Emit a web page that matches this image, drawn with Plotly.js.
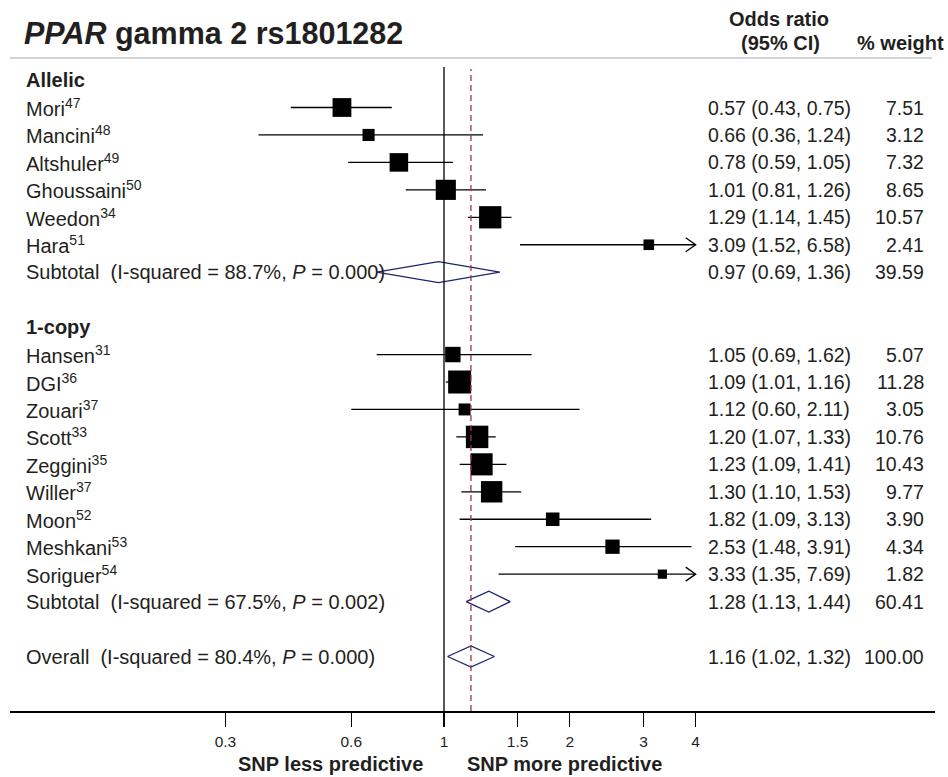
<!DOCTYPE html>
<html>
<head>
<meta charset="utf-8">
<script src="https://cdn.plot.ly/plotly-3.0.1.min.js"></script>
<style>html,body{margin:0;padding:0;background:#fff}</style>
</head>
<body>
<div id="chart" style="width:948px;height:777px"></div>
<script>
// ---- Allelic model studies ----
const allelicStudies = ['Mori', 'Mancini', 'Altshuler', 'Ghoussaini', 'Weedon', 'Hara'];
const allelicRefs = ['47', '48', '49', '50', '34', '51'];
const allelicOR = [0.57, 0.66, 0.78, 1.01, 1.29, 3.09];
const allelicLo = [0.43, 0.36, 0.59, 0.81, 1.14, 1.52];
const allelicHi = [0.75, 1.24, 1.05, 1.26, 1.45, 6.58];
const allelicWeight = [7.51, 3.12, 7.32, 8.65, 10.57, 2.41];

// ---- 1-copy model studies ----
const copyStudies = ['Hansen', 'DGI', 'Zouari', 'Scott', 'Zeggini', 'Willer', 'Moon', 'Meshkani', 'Soriguer'];
const copyRefs = ['31', '36', '37', '33', '35', '37', '52', '53', '54'];
const copyOR = [1.05, 1.09, 1.12, 1.20, 1.23, 1.30, 1.82, 2.53, 3.33];
const copyLo = [0.69, 1.01, 0.60, 1.07, 1.09, 1.10, 1.09, 1.48, 1.35];
const copyHi = [1.62, 1.16, 2.11, 1.33, 1.41, 1.53, 3.13, 3.91, 7.69];
const copyWeight = [5.07, 11.28, 3.05, 10.76, 10.43, 9.77, 3.90, 4.34, 1.82];

// ---- pooled estimates: allelic subtotal, 1-copy subtotal, overall ----
const pooledLabels = ['Subtotal', 'Subtotal', 'Overall'];
const pooledOR = [0.97, 1.28, 1.16];
const pooledLo = [0.69, 1.13, 1.02];
const pooledHi = [1.36, 1.44, 1.32];
const pooledWeight = [39.59, 60.41, 100.00];
const pooledI2 = ['88.7', '67.5', '80.4'];
const pooledP = ['0.000', '0.002', '0.000'];

// ---- axis ----
const tickVals = [0.3, 0.6, 1, 1.5, 2, 3, 4];
const tickLabels = ['0.3', '0.6', '1', '1.5', '2', '3', '4'];

// ---- page geometry (pixels) ----
const W = 948, H = 777;
const L = 10, R = 935, T = 58, B = 711;
const PX_PER_DECADE = 418, ONE_PX = 444;
const ROW0 = 80.05, ROWH = 27.45;
const px = x => (x - L) / (R - L);
const py = y => (B - y) / (B - T);

const FONT = 'Liberation Sans, Arial, Helvetica, sans-serif';
const TXT = '#231f20';
const NAVY = '#1d2470';
const MAROON = '#9e3446';
const SIZE_PER_ROOT_WEIGHT = 6.85;
const xMaxShown = tickVals[tickVals.length - 1];

// row index of every line of the table
const allelicHeaderRow = 0;
const allelicRows = allelicStudies.map((_, i) => 1 + i);
const copyHeaderRow = 9;
const copyRows = copyStudies.map((_, i) => 10 + i);
const pooledRows = [7, 19, 21];

const studyRows = allelicRows.concat(copyRows);
const studyOR = allelicOR.concat(copyOR);
const studyLo = allelicLo.concat(copyLo);
const studyHi = allelicHi.concat(copyHi);
const studyWeight = allelicWeight.concat(copyWeight);
const studyNames = allelicStudies.concat(copyStudies);
const studyRefs = allelicRefs.concat(copyRefs);

const fmt = v => v.toFixed(2);

// confidence-interval whiskers (truncated at the last tick with an arrowhead)
const ciX = [], ciY = [], arrowX = [], arrowY = [];
const arrowStep = Math.pow(10, 10 / PX_PER_DECADE);
const arrowHalf = 7 / ROWH;
studyRows.forEach((r, i) => {
  const hi = Math.min(studyHi[i], xMaxShown);
  ciX.push(studyLo[i], hi, null);
  ciY.push(r, r, null);
  if (studyHi[i] > xMaxShown) {
    arrowX.push(xMaxShown / arrowStep, xMaxShown, xMaxShown / arrowStep, null);
    arrowY.push(r - arrowHalf, r, r + arrowHalf, null);
  }
});

// pooled diamonds
const dX = [], dY = [];
const dHalf = 10.5 / ROWH;
pooledRows.forEach((r, i) => {
  dX.push(pooledLo[i], pooledOR[i], pooledHi[i], pooledOR[i], pooledLo[i], null);
  dY.push(r, r - dHalf, r, r + dHalf, r, null);
});

const traces = [
  { type: 'scatter', mode: 'lines', x: ciX, y: ciY, line: { color: '#000', width: 1.3 }, hoverinfo: 'skip' },
  { type: 'scatter', mode: 'lines', x: arrowX, y: arrowY, line: { color: '#000', width: 1.3 }, hoverinfo: 'skip' },
  {
    type: 'scatter', mode: 'markers', x: studyOR, y: studyRows,
    marker: {
      symbol: 'square', color: '#000', opacity: 1,
      size: studyWeight.map(w => SIZE_PER_ROOT_WEIGHT * Math.sqrt(w)), line: { width: 0 }
    },
    hoverinfo: 'skip'
  },
  { type: 'scatter', mode: 'lines', x: dX, y: dY, line: { color: NAVY, width: 1.3 }, hoverinfo: 'skip' }
];

// text columns
const ann = [];
const textAt = (text, x, y, opts = {}) => ann.push(Object.assign({
  text, x, y, xref: 'paper', yref: 'y', xanchor: 'left', yanchor: 'middle', showarrow: false,
  font: { family: FONT, size: 20, color: TXT }
}, opts));
const numFont = { family: FONT, size: 19.5, color: TXT };

textAt('<b>Allelic</b>', px(24), allelicHeaderRow);
textAt('<b>1-copy</b>', px(24), copyHeaderRow);
studyRows.forEach((r, i) => {
  textAt(studyNames[i] + '<sup>' + studyRefs[i] + '</sup>', px(24), r);
  textAt(fmt(studyOR[i]) + ' (' + fmt(studyLo[i]) + ', ' + fmt(studyHi[i]) + ')', px(706), r, { font: numFont });
  textAt(fmt(studyWeight[i]), px(926), r, { xanchor: 'right', font: numFont });
});
pooledRows.forEach((r, i) => {
  textAt(pooledLabels[i] + ' \u00a0(I-squared = ' + pooledI2[i] + '%, <i>P</i> = ' + pooledP[i] + ')', px(24), r);
  textAt(fmt(pooledOR[i]) + ' (' + fmt(pooledLo[i]) + ', ' + fmt(pooledHi[i]) + ')', px(706), r, { font: numFont });
  textAt(pooledWeight[i].toFixed(2), px(926), r, { xanchor: 'right', font: numFont });
});

// column headers and axis captions
const headAt = (text, x, y, xanchor) => ann.push({
  text, x: px(x), y: py(y), xref: 'paper', yref: 'paper', xanchor, yanchor: 'middle', showarrow: false,
  font: { family: FONT, size: 20, color: TXT }
});
headAt('<b>Odds ratio</b>', 779, 19, 'center');
headAt('<b>(95% CI)</b>', 780, 43, 'center');
headAt('<b>% weight</b>', 946, 43, 'right');
headAt('<b>SNP less predictive</b>', 330, 764, 'center');
headAt('<b>SNP more predictive</b>', 564, 764, 'center');

const shapes = [
  // rule under the header
  { type: 'line', xref: 'paper', yref: 'paper', x0: 0, x1: px(932), y0: 1, y1: 1, line: { color: '#c4c4c4', width: 1.3 } },
  // line of no effect
  { type: 'line', xref: 'x', yref: 'paper', x0: 1, x1: 1, y0: 0, y1: py(67), line: { color: '#000', width: 1.3 } },
  // overall pooled estimate
  { type: 'line', xref: 'x', yref: 'paper', x0: pooledOR[2], x1: pooledOR[2], y0: 0, y1: py(69), line: { color: MAROON, width: 1.3, dash: '6px,4px' } }
];

const layout = {
  width: W, height: H,
  margin: { l: L, r: W - R, t: T, b: H - B, pad: 0 },
  paper_bgcolor: '#fff', plot_bgcolor: '#fff',
  showlegend: false,
  title: {
    text: '<b><i>PPAR</i> gamma 2 rs1801282</b>',
    xref: 'container', yref: 'container', x: 24 / W, y: 1 - 33 / H, xanchor: 'left', yanchor: 'middle',
    font: { family: FONT, size: 30.5, color: TXT }
  },
  xaxis: {
    type: 'log',
    range: [-(ONE_PX - L) / PX_PER_DECADE, (R - ONE_PX) / PX_PER_DECADE],
    tickvals: tickVals, ticktext: tickLabels,
    ticks: 'outside', ticklen: 14, tickwidth: 1.3, tickcolor: '#000',
    ticklabelstandoff: 2,
    showline: true, linecolor: '#000', linewidth: 1.5,
    showgrid: false, zeroline: false, fixedrange: true,
    tickfont: { family: FONT, size: 15.5, color: TXT }
  },
  yaxis: {
    range: [(B - ROW0) / ROWH, (T - ROW0) / ROWH],
    visible: false, showgrid: false, zeroline: false, fixedrange: true
  },
  annotations: ann,
  shapes: shapes
};

Plotly.newPlot('chart', traces, layout, { staticPlot: true, displayModeBar: false });
</script>
</body>
</html>
